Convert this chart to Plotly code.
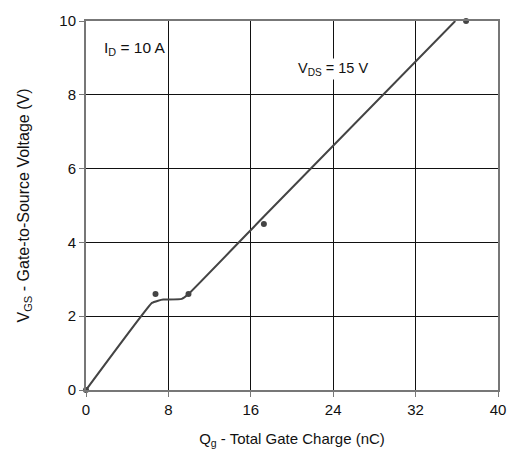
import plotly.graph_objects as go

# Curve data (Qg in nC, VGS in V)
curve_q = [0, 6.4, 7.0, 7.5, 8.0, 9.3, 9.95, 17.27, 35.85]
curve_v = [0, 2.36, 2.42, 2.45, 2.45, 2.47, 2.6, 4.7, 10.0]

# Marker points
dot_q = [0, 6.75, 9.95, 17.27, 36.9]
dot_v = [0, 2.6, 2.6, 4.5, 10.0]

x_ticks = [0, 8, 16, 24, 32, 40]
y_ticks = [0, 2, 4, 6, 8, 10]

FONT = "Liberation Sans, Arial, sans-serif"

fig = go.Figure()
fig.add_trace(go.Scatter(x=curve_q, y=curve_v, mode="lines",
                         line=dict(color="#444444", width=2, shape="spline", smoothing=0.3),
                         showlegend=False, hoverinfo="skip"))
fig.add_trace(go.Scatter(x=dot_q, y=dot_v, mode="markers",
                         marker=dict(color="#444444", size=6, symbol="circle"),
                         showlegend=False, cliponaxis=False))

fig.update_layout(
    width=518, height=457,
    margin=dict(l=86, r=14, t=15, b=66),
    paper_bgcolor="white", plot_bgcolor="white",
    font=dict(family=FONT, size=15, color="#111111"),
    xaxis=dict(range=[0, 40], tickvals=x_ticks, ticktext=[str(t) for t in x_ticks],
               showgrid=True, gridcolor="#111111", gridwidth=1,
               showline=True, linecolor="#777777", linewidth=2, mirror=True,
               ticks="outside", ticklen=5, tickcolor="#777777", tickwidth=1,
               zeroline=False, tickfont=dict(size=15),
               title=dict(text="Q<sub>g</sub> - Total Gate Charge (nC)", standoff=16,
                          font=dict(size=15))),
    yaxis=dict(range=[0, 10], tickvals=y_ticks, ticktext=[str(t) for t in y_ticks],
               showgrid=True, gridcolor="#111111", gridwidth=1,
               showline=True, linecolor="#777777", linewidth=2, mirror=True,
               ticks="outside", ticklen=5, tickcolor="#777777", tickwidth=1,
               zeroline=False, tickfont=dict(size=15),
               title=dict(text="V<sub>GS</sub> - Gate-to-Source Voltage (V)", standoff=26,
                          font=dict(size=16))),
    annotations=[
        dict(x=1.6, y=9.25, xref="x", yref="y", text="I<sub>D</sub> = 10 A",
             showarrow=False, xanchor="left", yanchor="middle",
             font=dict(size=15.5, color="#111111")),
        dict(x=24, y=8.7, xref="x", yref="y", text="V<sub>DS</sub> = 15 V",
             showarrow=False, xanchor="center", yanchor="middle", bgcolor="white",
             font=dict(size=14.5, color="#111111")),
    ],
)

fig.write_html("out.html")
